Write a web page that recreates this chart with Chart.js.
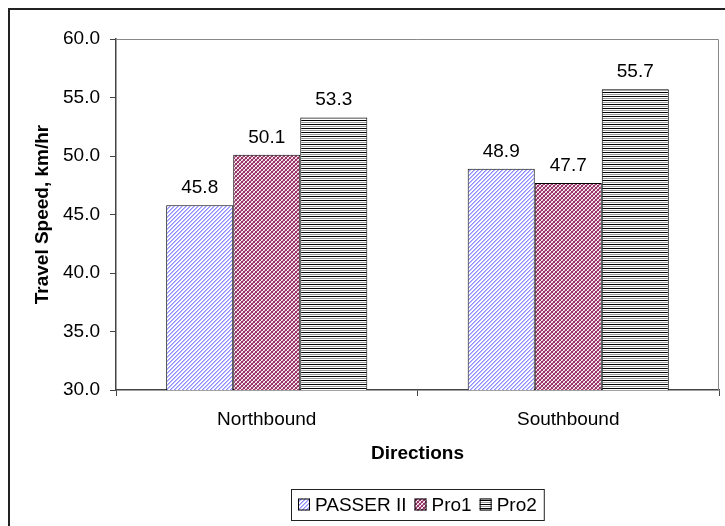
<!DOCTYPE html>
<html>
<head>
<meta charset="utf-8">
<script src="https://cdn.jsdelivr.net/npm/chart.js@4.4.0/dist/chart.umd.min.js"></script>
<style>
  html, body { margin: 0; padding: 0; background: #fff; }
  #wrap { width: 725px; height: 526px; position: relative; }
</style>
</head>
<body>
<div id="wrap"><canvas id="chart" width="725" height="526"></canvas></div>
<script>
// Chart data
const directions = ['Northbound', 'Southbound'];
const passerValues = [45.8, 48.9];
const pro1Values = [50.1, 47.7];
const pro2Values = [53.3, 55.7];
const seriesNames = ['PASSER II', 'Pro1', 'Pro2'];

const FONT = 'Arial, "Liberation Sans", sans-serif';
const FS = 19;

// Fill patterns like the Excel hatches
function makePattern(kind) {
  const c = document.createElement('canvas');
  const g = c.getContext('2d');
  c.width = 4; c.height = 4;
  g.fillStyle = '#ffffff'; g.fillRect(0, 0, 4, 4);
  if (kind === 'blue') {
    g.fillStyle = '#8f8fff';
    for (let i = 0; i < 4; i++) g.fillRect(i, 3 - i, 1, 1);
    g.fillStyle = '#b8b8ff';
    for (let i = 0; i < 4; i++) g.fillRect(i, (4 - i) % 4, 1, 1);
  } else if (kind === 'red') {
    g.fillStyle = '#993366';
    for (let i = 0; i < 4; i++) { g.fillRect(i, i, 1, 1); g.fillRect(i, 3 - i, 1, 1); }
    g.fillStyle = '#d9a6bf';
    for (let i = 0; i < 4; i++) g.fillRect(i, (i + 2) % 4, 1, 1);
  } else {
    g.fillStyle = '#000000'; g.fillRect(0, 0, 4, 1);
    g.fillStyle = '#999999'; g.fillRect(0, 2, 4, 1);
  }
  return document.createElement('canvas').getContext('2d').createPattern(c, 'repeat');
}

const fills = [makePattern('blue'), makePattern('red'), makePattern('lines')];

// Frame, plot border, value labels and boxed legend
const decorations = {
  id: 'decorations',
  beforeDraw(chart) {
    const ctx = chart.ctx;
    ctx.save();
    ctx.fillStyle = '#fff';
    ctx.fillRect(0, 0, chart.width, chart.height);
    ctx.strokeStyle = '#222';
    ctx.lineWidth = 2;
    ctx.beginPath();
    ctx.moveTo(9, chart.height + 5);
    ctx.lineTo(9, 9);
    ctx.lineTo(chart.width + 5, 9);
    ctx.stroke();
    ctx.restore();
  },
  afterDraw(chart) {
    const ctx = chart.ctx;
    const a = chart.chartArea;
    ctx.save();
    // gray top/right border of plot area
    ctx.strokeStyle = '#888';
    ctx.lineWidth = 1;
    ctx.beginPath();
    ctx.moveTo(a.left, a.top + 0.5);
    ctx.lineTo(a.right - 0.5, a.top + 0.5);
    ctx.lineTo(a.right - 0.5, a.bottom);
    ctx.stroke();

    // value labels
    ctx.fillStyle = '#000';
    ctx.font = FS + 'px ' + FONT;
    ctx.textAlign = 'center';
    ctx.textBaseline = 'alphabetic';
    chart.data.datasets.forEach((ds, i) => {
      chart.getDatasetMeta(i).data.forEach((bar, j) => {
        ctx.fillText(ds.data[j].toFixed(1), bar.x, bar.y - 12);
      });
    });

    // legend
    const sq = 12, gapA = 5, gapB = 8, padX = 7;
    let w = padX * 2;
    const widths = seriesNames.map(n => ctx.measureText(n).width);
    widths.forEach((tw, i) => { w += sq + gapA + tw + (i < widths.length - 1 ? gapB : 0); });
    const cx = (a.left + a.right) / 2;
    const lx = Math.round(cx - w / 2), ly = 489, lh = 31;
    ctx.strokeStyle = '#222';
    ctx.lineWidth = 1;
    ctx.strokeRect(lx + 0.5, ly + 0.5, w, lh);
    let x = lx + padX;
    const cy = ly + lh / 2;
    ctx.textAlign = 'left';
    ctx.textBaseline = 'middle';
    seriesNames.forEach((n, i) => {
      ctx.fillStyle = fills[i];
      ctx.fillRect(x, cy - sq / 2, sq, sq);
      ctx.strokeStyle = '#000';
      ctx.strokeRect(x + 0.5, cy - sq / 2 + 0.5, sq - 1, sq - 1);
      x += sq + gapA;
      ctx.fillStyle = '#000';
      ctx.fillText(n, x, cy + 1);
      x += widths[i] + gapB;
    });
    ctx.restore();
  }
};

const ctx = document.getElementById('chart').getContext('2d');
new Chart(ctx, {
  type: 'bar',
  data: {
    labels: directions,
    datasets: [
      { label: seriesNames[0], data: passerValues, backgroundColor: fills[0] },
      { label: seriesNames[1], data: pro1Values, backgroundColor: fills[1] },
      { label: seriesNames[2], data: pro2Values, backgroundColor: fills[2] }
    ]
  },
  options: {
    responsive: false,
    animation: false,
    layout: { padding: { top: 39, right: 6, bottom: 0, left: 0 } },
    datasets: {
      bar: {
        borderColor: '#000',
        borderWidth: 1,
        borderSkipped: false,
        categoryPercentage: 0.667,
        barPercentage: 1.0
      }
    },
    plugins: {
      legend: { display: false },
      tooltip: { enabled: false }
    },
    scales: {
      x: {
        afterFit(scale) { scale.height = 136; },
        grid: { drawOnChartArea: false, drawTicks: true, tickLength: 6, color: '#444', offset: true },
        border: { color: '#444', width: 1.5 },
        ticks: { color: '#000', font: { family: FONT, size: FS }, padding: 12 },
        title: {
          display: true, text: 'Directions', color: '#000',
          font: { family: FONT, size: FS, weight: 'bold' },
          padding: { top: 0, bottom: 61 }
        }
      },
      y: {
        min: 30, max: 60,
        afterFit(scale) { scale.width = 116; },
        grid: { drawOnChartArea: false, drawTicks: true, tickLength: 6, color: '#444' },
        border: { color: '#444', width: 1.5 },
        ticks: {
          stepSize: 5, color: '#000', padding: 10,
          font: { family: FONT, size: FS },
          callback: v => v.toFixed(1)
        },
        title: {
          display: true, text: 'Travel Speed, km/hr', color: '#000',
          font: { family: FONT, size: FS, weight: 'bold' },
          padding: { top: 31, bottom: 0 }
        }
      }
    }
  },
  plugins: [decorations]
});
</script>
</body>
</html>
